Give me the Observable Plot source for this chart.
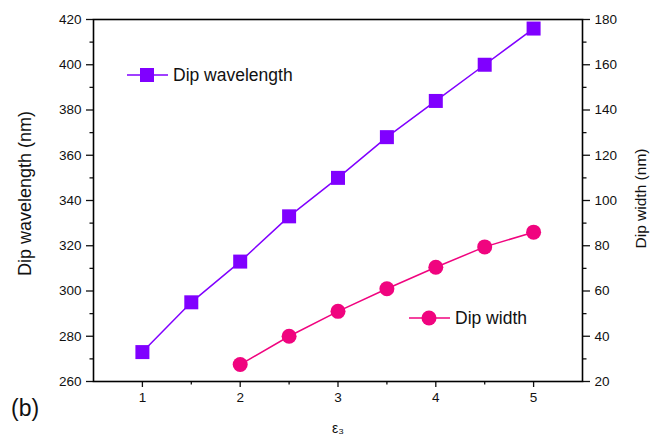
<!DOCTYPE html>
<html><head>
<meta charset="utf-8">
<script src="https://cdn.jsdelivr.net/npm/d3@7"></script>
<script src="https://cdn.jsdelivr.net/npm/@observablehq/plot@0.6"></script>
<style>
body{margin:0;background:#fff;}
#wrap{position:relative;width:653px;height:438px;font-family:"Liberation Sans",Arial,sans-serif;overflow:hidden;}
.leg{position:absolute;display:flex;align-items:center;font-size:17.5px;color:#111;height:20px;white-space:nowrap;}
.leg svg{margin-right:5px;}
#tag{position:absolute;left:11px;top:395px;font-size:23px;color:#111;}
</style>
</head><body><div id="wrap"></div>
<script>
const epsilon = [1, 1.5, 2, 2.5, 3, 3.5, 4, 4.5, 5];
const dipWavelength = [273, 295, 313, 333, 350, 368, 384, 400, 416];
const epsilonWidth = [2, 2.5, 3, 3.5, 4, 4.5, 5];
const dipWidth = [27.5, 40, 51, 61, 70.5, 79.5, 86];
const xTicks = [1, 2, 3, 4, 5];
const xMinor = [1.5, 2.5, 3.5, 4.5];
const leftTicks = [260, 280, 300, 320, 340, 360, 380, 400, 420];
const leftMinor = [270, 290, 310, 330, 350, 370, 390, 410];
const rightTicks = [20, 40, 60, 80, 100, 120, 140, 160, 180];
const rightMinor = [30, 50, 70, 90, 110, 130, 150, 170];

const purple = "#8000ff", pink = "#f0047f";
// right axis (width) mapped into left-axis units
const w2y = d3.scaleLinear().domain([20, 180]).range([260, 420]);
const y2w = w2y.invert;

const wl = epsilon.map((e, i) => ({x: e, y: dipWavelength[i]}));
const wd = epsilonWidth.map((e, i) => ({x: e, y: w2y(dipWidth[i])}));

const chart = Plot.plot({
  width: 653, height: 438,
  marginLeft: 93, marginRight: 71, marginTop: 19, marginBottom: 57,
  style: {fontFamily: "Liberation Sans, Arial, sans-serif", fontSize: "13.5px", color: "#111", background: "#fff"},
  x: {domain: [0.5, 5.5]},
  y: {domain: [260, 420]},
  marks: [
    Plot.axisX({ticks: xTicks, tickFormat: d => String(d), tickSize: 6, tickPadding: 5, label: null, strokeWidth: 1.3}),
    Plot.axisX({ticks: xMinor, tickSize: 3.5, text: null, label: null, strokeWidth: 1.3}),
    Plot.axisY({anchor: "left", ticks: leftTicks, tickSize: 7, tickPadding: 5, label: null, strokeWidth: 1.3}),
    Plot.axisY({anchor: "left", ticks: leftMinor, tickSize: 3.5, text: null, label: null, strokeWidth: 1.3}),
    Plot.axisY({anchor: "right", ticks: rightTicks.map(w2y), tickFormat: d => String(Math.round(y2w(d))), tickSize: 7, tickPadding: 5, label: null, strokeWidth: 1.3}),
    Plot.axisY({anchor: "right", ticks: rightMinor.map(w2y), tickSize: 3.5, text: null, label: null, strokeWidth: 1.3}),
    Plot.text(["Dip wavelength (nm)"], {frameAnchor: "left", textAnchor: "middle", lineAnchor: "middle", dx: -68, dy: -7, rotate: -90, fontSize: 18, fill: "#111"}),
    Plot.text(["Dip width (nm)"], {frameAnchor: "right", textAnchor: "middle", lineAnchor: "middle", dx: 59, dy: -2, rotate: -90, fontSize: 15.5, fill: "#111"}),
    Plot.text(["ε₃"], {frameAnchor: "bottom", dy: 51, fontSize: 14, fill: "#111"}),
    Plot.frame({stroke: "#000", strokeWidth: 1.6}),
    Plot.line(wl, {x: "x", y: "y", stroke: purple, strokeWidth: 1.5}),
    Plot.dot(wl, {x: "x", y: "y", symbol: "square", r: 7.9, fill: purple, stroke: "none"}),
    Plot.line(wd, {x: "x", y: "y", stroke: pink, strokeWidth: 1.5}),
    Plot.dot(wd, {x: "x", y: "y", symbol: "circle", r: 7.5, fill: pink, stroke: "none"})
  ]
});
const wrap = document.getElementById("wrap");
wrap.appendChild(chart);

function legend(left, top, color, shape, label) {
  const d = document.createElement("div");
  d.className = "leg";
  d.style.left = left + "px"; d.style.top = (top - 10) + "px";
  const mk = shape === "square"
    ? `<rect x="13" y="3" width="14" height="14" fill="${color}"/>`
    : `<circle cx="20" cy="10" r="7.5" fill="${color}"/>`;
  d.innerHTML = `<svg width="41" height="20"><line x1="0" x2="41" y1="10" y2="10" stroke="${color}" stroke-width="1.5"/>${mk}</svg><span>${label}</span>`;
  wrap.appendChild(d);
}
legend(127, 75, purple, "square", "Dip wavelength");
legend(409, 318, pink, "circle", "Dip width");
const tag = document.createElement("div");
tag.id = "tag"; tag.textContent = "(b)";
wrap.appendChild(tag);
</script>
</body></html>
